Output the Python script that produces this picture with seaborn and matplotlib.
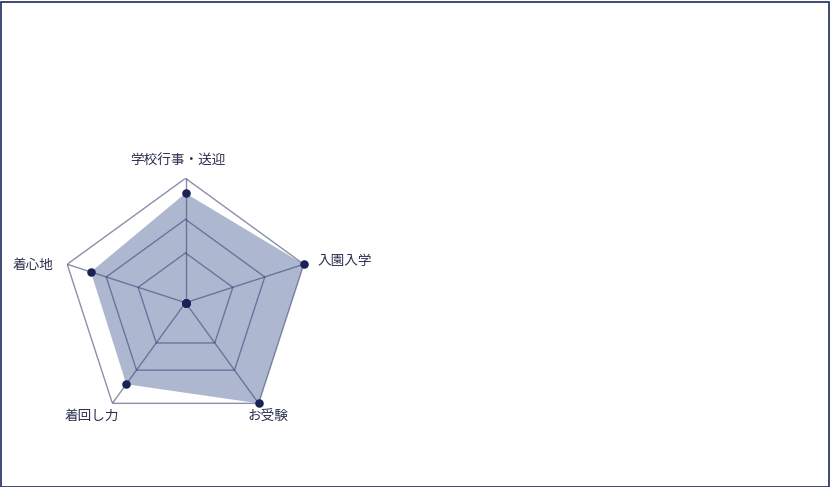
import numpy as np
import pandas as pd
import matplotlib
matplotlib.use("Agg")
import matplotlib.pyplot as plt
import seaborn as sns
from matplotlib.patches import Rectangle

sns.set_theme(style="white")
plt.rcParams['font.family'] = ['Noto Sans CJK JP', 'DejaVu Sans']

# ---- data ----
categories = ["学校行事・送迎", "入園入学", "お受験", "着回し力", "着心地"]
scores = [4.4, 5.0, 5.0, 4.05, 4.0]
base_scores = [0, 0, 0, 0, 0]
ring_levels = [2.0, 3.35, 5.0]
r_max = 5.0

navy = "#1b2356"
grid_col = (0.10, 0.13, 0.33, 0.5)
fill_col = (0.21, 0.30, 0.54, 0.40)
text_col = "#2b3050"

W, H = 830, 487
fig = plt.figure(figsize=(W / 100, H / 100), dpi=100)

cx, cy, R = 185.5, 302.7, 124.4
ax = fig.add_axes([(cx - R) / W, (H - cy - R) / H, 2 * R / W, 2 * R / H], projection="polar")
ax.set_theta_offset(np.pi / 2)
ax.set_theta_direction(-1)
ax.set_ylim(0, r_max)
ax.grid(False)
ax.set_xticks([])
ax.set_yticks([])
ax.spines["polar"].set_visible(False)
ax.set_facecolor("none")

n = len(categories)
theta = np.arange(n) * 2 * np.pi / n
theta_c = np.append(theta, theta[0])

# grid rings
for lvl in ring_levels:
    ax.plot(theta_c, [lvl] * (n + 1), color=grid_col, lw=1.0, zorder=1)
# spokes
for t in theta:
    ax.plot([t, t], [0, r_max], color=grid_col, lw=1.0, zorder=1)

# data fill
vals_c = np.append(scores, scores[0])
ax.fill(theta_c, vals_c, color=fill_col, lw=0, zorder=2)

df = pd.DataFrame({"theta": theta, "score": scores, "cat": categories})
sns.scatterplot(data=df, x="theta", y="score", ax=ax, color=navy, s=38,
                edgecolor=navy, linewidth=0, zorder=4, clip_on=False, legend=False)
df0 = pd.DataFrame({"theta": theta, "score": base_scores})
sns.scatterplot(data=df0, x="theta", y="score", ax=ax, color=navy, s=38,
                edgecolor=navy, linewidth=0, zorder=4, clip_on=False, legend=False)
ax.set_xlabel("")
ax.set_ylabel("")

# labels (offsets in pixels from outer vertex)
offsets = [(-8, 17, "center"), (13.4, 3, "left"), (9.4, -13.7, "center"),
           (-21, -13, "center"), (-14, -1, "right")]
for t, lab, (dx, dy, ha) in zip(theta, categories, offsets):
    ax.annotate(lab, xy=(t, r_max), xytext=(dx * 0.72, dy * 0.72),
                textcoords="offset points", ha=ha, va="center",
                fontsize=9.8, color=text_col, annotation_clip=False)

# outer frame
fig.patches.append(Rectangle((0.5 / W, 0.5 / H), 1 - 2 / W, 1 - 2 / H,
                             transform=fig.transFigure, fill=False,
                             edgecolor="#1f2a5e", lw=1.2))

fig.savefig("out.png", dpi=100)
